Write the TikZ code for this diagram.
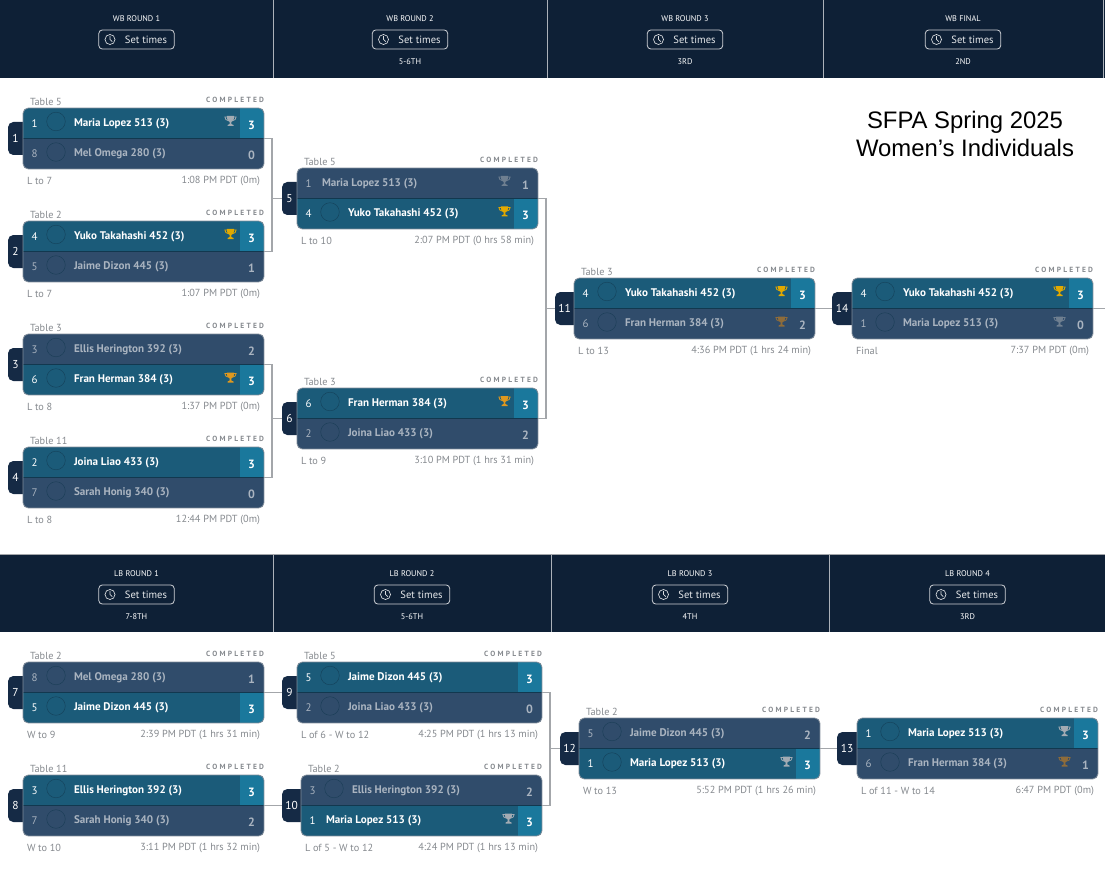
\documentclass[tikz,border=0pt]{standalone}
\usepackage{fontspec}
\setmainfont{PT Sans}
\newfontfamily\titlefont{Liberation Sans}
\usetikzlibrary{positioning}

\definecolor{barfill}{HTML}{0E2036}
\definecolor{tabfill}{HTML}{152A45}
\definecolor{winfill}{HTML}{1B5B79}
\definecolor{losefill}{HTML}{304C6B}
\definecolor{scorefill}{HTML}{1A789C}
\definecolor{rowline}{HTML}{12384F}
\definecolor{framegray}{HTML}{7F8C99}
\definecolor{wiregray}{HTML}{A3A6AA}
\definecolor{softgray}{HTML}{85898E}
\definecolor{dimtext}{HTML}{AAB4C0}
\definecolor{cupgold}{HTML}{E2A900}
\definecolor{cuporange}{HTML}{E0981E}
\definecolor{cupsilver}{HTML}{A3ABB3}
\definecolor{cupdimsilver}{HTML}{6F7F90}
\definecolor{cupbronze}{HTML}{8E6C3A}

\tikzset{
  plain/.style = {inner sep = 0, outer sep = 0},
  cardframe/.style = {plain, draw = framegray, line width = .6pt, rounded corners = 4pt, anchor = north west},
  seedtext/.style = {plain, font = \fontsize{8.2}{9}\selectfont},
  nametext/.style = {plain, anchor = west, font = \fontsize{8.3}{9}\selectfont\bfseries},
  scoretext/.style = {plain, font = \fontsize{9}{10}\selectfont\bfseries},
  smalltext/.style = {plain, text = softgray, font = \fontsize{7.7}{9}\selectfont},
  donetext/.style = {plain, anchor = east, text = softgray, font = \fontsize{5.6}{6}\bfseries\addfontfeature{LetterSpace = 30}\selectfont},
  tabtext/.style = {plain, text = white, font = \fontsize{8.6}{9}\selectfont},
  wire/.style = {wiregray, line width = 1.1pt},
  headtext/.style = {plain, text = white, font = \fontsize{6.2}{7}\selectfont},
  timebtn/.style = {plain, draw = white!80!barfill, line width = .6pt, rounded corners = 2.5pt, minimum width = 56.5pt, minimum height = 14.2pt},
  bardiv/.style = {white!65!barfill, line width = .7pt}
}

\newcommand{\cupicon}[3]{
  \begin{scope}[shift = {(#1, #2)}]
    \fill[#3] (-3.6, -5) -- (3.6, -5) .. controls (3.6, -.5) and (2, .8) .. (.9, 1) -- (.9, 3) -- (3, 4) -- (3, 5) -- (-3, 5) -- (-3, 4) -- (-.9, 3) -- (-.9, 1) .. controls (-2, .8) and (-3.6, -.5) .. (-3.6, -5);
    \draw[#3, line width = .6pt] (-3.6, -4) -- (-5.6, -4) .. controls (-5.6, -1.5) and (-4, -.8) .. (-2.6, -.6);
    \draw[#3, line width = .6pt] (3.6, -4) -- (5.6, -4) .. controls (5.6, -1.5) and (4, -.8) .. (2.6, -.6);
  \end{scope}
}

% #1 win or lose, #2 row, #3 seed, #4 player, #5 score, #6 cup colour, #7 avatar
\newcommand{\playerrow}[7]{
  \pgfmathsetmacro{\rowtop}{#2 * 30.5}
  \def\rowkind{#1}\def\winkind{win}
  \begin{scope}
    \clip[rounded corners = 4pt] (0, 0) rectangle (\cardw, 61);
    \fill[#1fill] (0, \rowtop) rectangle (\cardw, \rowtop + 30.5);
    \ifx\rowkind\winkind\fill[scorefill] (\cardw - 24, \rowtop) rectangle (\cardw, \rowtop + 30.5);\fi
  \end{scope}
  \ifx\rowkind\winkind\def\rowtext{white}\else\def\rowtext{dimtext}\fi
  \node[seedtext, text = \rowtext] (\cardname-seed-#2) at (11.5, \rowtop + 15.5) {#3};
  \ifnum#7=1
    \draw[rowline, line width = .35pt, opacity = .7] (33, \rowtop + 13.5) circle (9.3);
    \node[nametext, text = \rowtext] (\cardname-player-#2) at (51, \rowtop + 15.5) {#4};
  \else
    \node[nametext, text = \rowtext] (\cardname-player-#2) at (25, \rowtop + 15.5) {#4};
  \fi
  \node[scoretext, text = \rowtext] (\cardname-score-#2) at (\cardw - 12.5, \rowtop + 17) {#5};
  \def\cupname{#6}\def\nocup{none}
  \ifx\cupname\nocup\else\cupicon{\cardw - 33.5}{\rowtop + 13}{#6}\fi
}

% #1 name, #2 corner, #3 width, #4 tab width, #5 number, #6 table, #7 note, #8 time, #9 rows
\newcommand{\matchcard}[9]{
  \begin{scope}[shift = {(#2)}]
    \def\cardname{#1}
    \def\cardw{#3}
    \fill[tabfill, rounded corners = 4pt] (-#4, 14) rectangle (8, 47);
    \node[tabtext] (#1-tab-text) at (-#4 / 2, 30.5) {#5};
    \coordinate (#1-tab) at (-#4, 30.5);
    \if\relax\detokenize{#6}\relax\else
      \node[smalltext, anchor = west] (#1-table) at (7, -6.5) {#6};
    \fi
    \node[donetext] (#1-done) at (#3, -8) {COMPLETED};
    #9
    \draw[rowline, line width = .8pt] (0, 30.5) -- (#3, 30.5);
    \node[cardframe, minimum width = #3 * .75pt, minimum height = 61 * .75pt] (#1) at (0, 0) {};
    \node[smalltext, anchor = west] (#1-note) at (4, 72.5) {#7};
    \node[smalltext, anchor = east] (#1-time) at (#3 - 4, 72.5) {#8};
  \end{scope}
}

\newcommand{\roundhead}[5]{
  \node[headtext] (#1-label) at (#2, #3 + 18.5) {#4};
  \node[timebtn] (#1-btn) at (#2, #3 + 39.5) {};
  \node[plain, text = white!90!barfill, font = \fontsize{7.9}{9}\selectfont] (#1-set) at (#2 + 9.5, #3 + 39.7) {Set times};
  \draw[white!85!barfill, line width = .5pt] (#2 - 26.5, #3 + 39.5) circle (5);
  \draw[white!85!barfill, line width = .5pt] (#2 - 26.5, #3 + 36.2) -- (#2 - 26.5, #3 + 39.5) -- (#2 - 24.2, #3 + 41.6);
  \if\relax\detokenize{#5}\relax\else
    \node[headtext] (#1-place) at (#2, #3 + 61.5) {#5};
  \fi
}

\begin{document}
\begin{tikzpicture}[x = .75pt, y = -.75pt]
  \useasboundingbox (0, 0) rectangle (1105, 884);
  \fill[barfill] (0, 0) rectangle (1105, 78);
  \fill[barfill] (0, 555) rectangle (1105, 632);
  \draw[wiregray, line width = .6pt] (0, 554.5) -- (1105, 554.5);
  \foreach \divx in {273, 547, 823, 1103}
    \draw[bardiv] (\divx, 0) -- (\divx, 78);
  \foreach \divx in {273, 551, 829}
    \draw[bardiv] (\divx, 555) -- (\divx, 632);

  \roundhead{wb1}{136.5}{0}{WB ROUND 1}{}
  \roundhead{wb2}{410}{0}{WB ROUND 2}{5-6TH}
  \roundhead{wb3}{685}{0}{WB ROUND 3}{3RD}
  \roundhead{wb4}{963}{0}{WB FINAL}{2ND}
  \roundhead{lb1}{136.5}{555}{LB ROUND 1}{7-8TH}
  \roundhead{lb2}{412}{555}{LB ROUND 2}{5-6TH}
  \roundhead{lb3}{690}{555}{LB ROUND 3}{4TH}
  \roundhead{lb4}{967.5}{555}{LB ROUND 4}{3RD}

  \node[plain, align = center, font = \titlefont\fontsize{17.9}{21}\selectfont] (title) at (965, 134) {SFPA Spring 2025\\Women’s Individuals};

  \matchcard{m1}{23, 108}{241}{15}{1}{Table 5}{L to 7}{1:08 PM PDT (0m)}{
    \playerrow{win}{0}{1}{Maria Lopez 513 (3)}{3}{cupsilver}{1}
    \playerrow{lose}{1}{8}{Mel Omega 280 (3)}{0}{none}{1}}
  \matchcard{m2}{23, 221}{241}{15}{2}{Table 2}{L to 7}{1:07 PM PDT (0m)}{
    \playerrow{win}{0}{4}{Yuko Takahashi 452 (3)}{3}{cupgold}{1}
    \playerrow{lose}{1}{5}{Jaime Dizon 445 (3)}{1}{none}{1}}
  \matchcard{m3}{23, 334}{241}{15}{3}{Table 3}{L to 8}{1:37 PM PDT (0m)}{
    \playerrow{lose}{0}{3}{Ellis Herington 392 (3)}{2}{none}{1}
    \playerrow{win}{1}{6}{Fran Herman 384 (3)}{3}{cuporange}{1}}
  \matchcard{m4}{23, 447}{241}{15}{4}{Table 11}{L to 8}{12:44 PM PDT (0m)}{
    \playerrow{win}{0}{2}{Joina Liao 433 (3)}{3}{none}{1}
    \playerrow{lose}{1}{7}{Sarah Honig 340 (3)}{0}{none}{1}}
  \matchcard{m5}{297, 168}{241}{15}{5}{Table 5}{L to 10}{2:07 PM PDT (0 hrs 58 min)}{
    \playerrow{lose}{0}{1}{Maria Lopez 513 (3)}{1}{cupdimsilver}{0}
    \playerrow{win}{1}{4}{Yuko Takahashi 452 (3)}{3}{cupgold}{1}}
  \matchcard{m6}{297, 388}{241}{15}{6}{Table 3}{L to 9}{3:10 PM PDT (1 hrs 31 min)}{
    \playerrow{win}{0}{6}{Fran Herman 384 (3)}{3}{cuporange}{1}
    \playerrow{lose}{1}{2}{Joina Liao 433 (3)}{2}{none}{1}}
  \matchcard{m11}{574, 278}{241}{19}{11}{Table 3}{L to 13}{4:36 PM PDT (1 hrs 24 min)}{
    \playerrow{win}{0}{4}{Yuko Takahashi 452 (3)}{3}{cupgold}{1}
    \playerrow{lose}{1}{6}{Fran Herman 384 (3)}{2}{cupbronze}{1}}
  \matchcard{m14}{852, 278}{241}{20}{14}{}{Final}{7:37 PM PDT (0m)}{
    \playerrow{win}{0}{4}{Yuko Takahashi 452 (3)}{3}{cupgold}{1}
    \playerrow{lose}{1}{1}{Maria Lopez 513 (3)}{0}{cupdimsilver}{1}}

  \matchcard{m7}{23, 662}{241}{15}{7}{Table 2}{W to 9}{2:39 PM PDT (1 hrs 31 min)}{
    \playerrow{lose}{0}{8}{Mel Omega 280 (3)}{1}{none}{1}
    \playerrow{win}{1}{5}{Jaime Dizon 445 (3)}{3}{none}{1}}
  \matchcard{m8}{23, 775}{241}{15}{8}{Table 11}{W to 10}{3:11 PM PDT (1 hrs 32 min)}{
    \playerrow{win}{0}{3}{Ellis Herington 392 (3)}{3}{none}{1}
    \playerrow{lose}{1}{7}{Sarah Honig 340 (3)}{2}{none}{1}}
  \matchcard{m9}{297, 662}{245}{15}{9}{Table 5}{L of 6 - W to 12}{4:25 PM PDT (1 hrs 13 min)}{
    \playerrow{win}{0}{5}{Jaime Dizon 445 (3)}{3}{none}{1}
    \playerrow{lose}{1}{2}{Joina Liao 433 (3)}{0}{none}{1}}
  \matchcard{m10}{301, 775}{241}{19}{10}{Table 2}{L of 5 - W to 12}{4:24 PM PDT (1 hrs 13 min)}{
    \playerrow{lose}{0}{3}{Ellis Herington 392 (3)}{2}{none}{1}
    \playerrow{win}{1}{1}{Maria Lopez 513 (3)}{3}{cupsilver}{0}}
  \matchcard{m12}{579, 718}{241}{19}{12}{Table 2}{W to 13}{5:52 PM PDT (1 hrs 26 min)}{
    \playerrow{lose}{0}{5}{Jaime Dizon 445 (3)}{2}{none}{1}
    \playerrow{win}{1}{1}{Maria Lopez 513 (3)}{3}{cupsilver}{1}}
  \matchcard{m13}{857, 718}{241}{20}{13}{}{L of 11 - W to 14}{6:47 PM PDT (0m)}{
    \playerrow{win}{0}{1}{Maria Lopez 513 (3)}{3}{cupsilver}{1}
    \playerrow{lose}{1}{6}{Fran Herman 384 (3)}{1}{cupbronze}{1}}

  \coordinate (j5) at ([xshift = 8 * .75pt] m1.east);
  \coordinate (j6) at ([xshift = 8 * .75pt] m3.east);
  \coordinate (j11) at ([xshift = 8 * .75pt] m5.east);
  \coordinate (j12) at ([xshift = 8 * .75pt] m9.east);
  \coordinate (out14) at (1105, 308.5);
  \draw[wire] (m1.east) -- (j5) |- (m2.east);
  \draw[wire] (m3.east) -- (j6) |- (m4.east);
  \draw[wire] (m5.east) -- (j11) |- (m6.east);
  \draw[wire] (m9.east) -- (j12) |- (m10.east);
  \draw[wire] (m5-tab) -- (m5-tab -| j5);
  \draw[wire] (m6-tab) -- (m6-tab -| j6);
  \draw[wire] (m11-tab) -- (m11-tab -| j11);
  \draw[wire] (m12-tab) -- (m12-tab -| j12);
  \draw[wire] (m11.east) -- (m14-tab);
  \draw[wire] (m14.east) -- (out14);
  \draw[wire] (m7.east) -- (m9-tab);
  \draw[wire] (m8.east) -- (m10-tab);
  \draw[wire] (m12.east) -- (m13-tab);
\end{tikzpicture}
\end{document}
